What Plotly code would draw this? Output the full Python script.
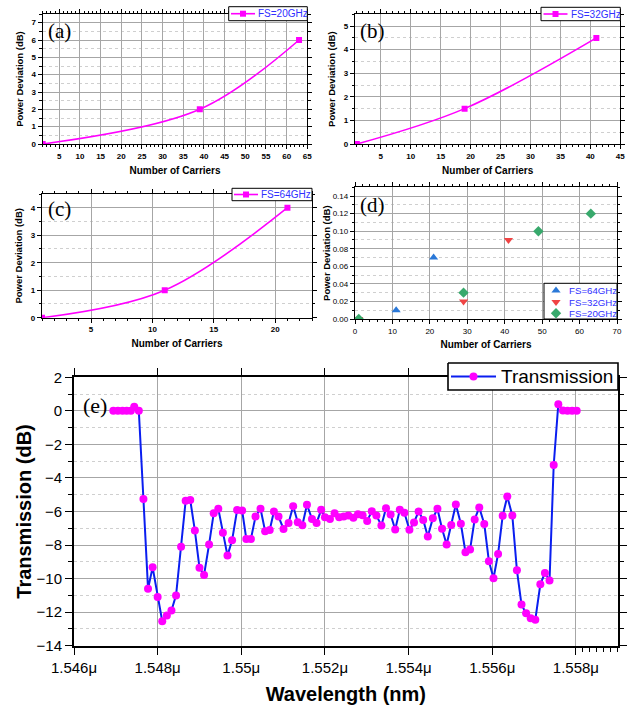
import plotly.graph_objects as go

W, H = 635, 705

# ---- data -------------------------------------------------------------
# (a)-(c): power deviation versus number of carriers
carriers_a = [1, 39, 63]
deviation_a = [0, 2, 6]
carriers_b = [1, 19, 41]
deviation_b = [0, 1.5, 4.5]
carriers_c = [1, 11, 21]
deviation_c = [0, 1, 4]

# (d): deviation for each frequency spacing
fs64_carriers = [1, 11, 21]
fs64_deviation = [0, 0.01, 0.07]
fs32_carriers = [1, 29, 41]
fs32_deviation = [0, 0.02, 0.09]
fs20_carriers = [1, 29, 49, 63]
fs20_deviation = [0, 0.03, 0.10, 0.12]

# (e): filter transmission spectrum
wavelength_nm = [
    1546.94, 1547.05, 1547.16, 1547.26, 1547.36, 1547.44, 1547.55, 1547.66, 1547.77, 1547.88,
    1548.00, 1548.11, 1548.22, 1548.33, 1548.44, 1548.56, 1548.67, 1548.78, 1548.89, 1549.00,
    1549.11, 1549.23, 1549.34, 1549.45, 1549.56, 1549.67, 1549.78, 1549.90, 1550.02, 1550.12,
    1550.23, 1550.34, 1550.46, 1550.57, 1550.68, 1550.78, 1550.89, 1551.01, 1551.13, 1551.24,
    1551.35, 1551.46, 1551.57, 1551.69, 1551.80, 1551.91, 1552.00, 1552.12, 1552.23, 1552.34,
    1552.45, 1552.56, 1552.68, 1552.79, 1552.90, 1553.01, 1553.12, 1553.23, 1553.35, 1553.46,
    1553.57, 1553.68, 1553.79, 1553.90, 1554.02, 1554.13, 1554.24, 1554.35, 1554.46, 1554.58,
    1554.69, 1554.80, 1554.91, 1555.02, 1555.13, 1555.25, 1555.36, 1555.47, 1555.58, 1555.69,
    1555.81, 1555.92, 1556.03, 1556.14, 1556.25, 1556.36, 1556.48, 1556.59, 1556.70, 1556.81,
    1556.92, 1557.03, 1557.15, 1557.26, 1557.37, 1557.47, 1557.58, 1557.69, 1557.80, 1557.91,
    1558.02,
]
transmission_db = [
    0, 0, 0, 0, 0, 0.24, 0, -5.26, -10.6, -9.33,
    -11.1, -12.54, -12.2, -11.9, -11.0, -8.1, -5.36, -5.32, -7.14, -9.35,
    -9.78, -7.96, -6.11, -5.83, -7.26, -8.63, -7.72, -5.91, -5.94, -7.64,
    -7.64, -6.3, -5.84, -7.18, -7.1, -6.0, -6.3, -7.04, -6.68, -5.68,
    -6.64, -6.82, -5.6, -6.44, -6.68, -5.9, -6.35, -6.45, -6.1, -6.35,
    -6.3, -6.24, -6.37, -6.16, -6.22, -6.57, -5.98, -6.24, -6.83, -5.8,
    -6.18, -7.07, -5.9, -6.08, -7.09, -6.65, -6.0, -6.5, -7.49, -6.4,
    -5.84, -7.03, -7.97, -6.81, -5.58, -6.73, -8.43, -8.27, -6.47, -5.76,
    -6.75, -8.96, -9.98, -8.53, -6.25, -5.1, -6.24, -9.5, -11.55, -12.07,
    -12.37, -12.45, -10.34, -9.66, -10.12, -3.23, 0.4, 0.02, 0, 0,
    0,
]
wavelength_m = [w * 1e-9 for w in wavelength_nm]

# ---- styling ----------------------------------------------------------
SANS = "Liberation Sans, Arial, sans-serif"
SERIF = "Liberation Serif, Times New Roman, serif"
MAGENTA = "#ff00ff"
TRACE_BLUE = "#0a1ef0"
LEG_BLUE = "#3030ff"
GRID = "#a6a6a6"
MINOR_GRID = "#cfcfcf"
COL64, COL32, COL20 = "#2a78d8", "#f04444", "#38a96c"


def xdom(left, right):
    return [left / W, right / W]


def ydom(top, bottom):
    return [1 - bottom / H, 1 - top / H]


def axis(domain, rng, dtick, minor_dtick, minor_grid, anchor, font_size,
         bold_ticks, title, title_size, standoff, line_w=1.3, tick0=0,
         tickformat=None, exponentformat="B", tick_len=4):
    tick_font = dict(family=SANS, size=font_size, color="black",
                     weight="bold" if bold_ticks else "normal")
    ax = dict(
        domain=domain, range=rng, dtick=dtick, tick0=tick0, anchor=anchor,
        automargin=False,
        showline=True, linecolor="black", linewidth=line_w, mirror="allticks",
        ticks="outside", ticklen=tick_len, tickwidth=1, tickcolor="black",
        tickfont=tick_font, showgrid=True, gridcolor=GRID, gridwidth=1.1,
        zeroline=False, exponentformat=exponentformat,
        title=dict(text=title, standoff=standoff,
                   font=dict(family=SANS, size=title_size, color="black",
                             weight="bold")),
        minor=dict(dtick=minor_dtick, ticks="outside", ticklen=tick_len * 0.55,
                   tickcolor="black", showgrid=minor_grid,
                   gridcolor=MINOR_GRID, griddash="dot", gridwidth=1),
    )
    if tickformat:
        ax["tickformat"] = tickformat
    return ax


fig = go.Figure()

# ---- panels (a)-(c) ---------------------------------------------------
small_panels = [
    ("x", "y", carriers_a, deviation_a, "FS=20GHz"),
    ("x2", "y2", carriers_b, deviation_b, "FS=32GHz"),
    ("x3", "y3", carriers_c, deviation_c, "FS=64GHz"),
]
for xa, ya, cx, cy, name in small_panels:
    fig.add_trace(go.Scatter(
        x=cx, y=cy, name=name, xaxis=xa, yaxis=ya,
        mode="lines+markers", line=dict(color=MAGENTA, width=1.6, shape="spline"),
        marker=dict(symbol="square", size=6, color=MAGENTA),
    ))

# ---- panel (d) --------------------------------------------------------
for cx, cy, name, sym, col in [
    (fs64_carriers, fs64_deviation, "FS=64GHz", "triangle-up", COL64),
    (fs32_carriers, fs32_deviation, "FS=32GHz", "triangle-down", COL32),
    (fs20_carriers, fs20_deviation, "FS=20GHz", "diamond", COL20),
]:
    fig.add_trace(go.Scatter(
        x=cx, y=cy, name=name, xaxis="x4", yaxis="y4",
        mode="markers", marker=dict(symbol=sym, size=8, color=col),
    ))

# ---- panel (e) --------------------------------------------------------
fig.add_trace(go.Scatter(
    x=wavelength_m, y=transmission_db, name="Transmission", xaxis="x5",
    yaxis="y5", mode="lines+markers",
    line=dict(color=TRACE_BLUE, width=2),
    marker=dict(symbol="circle", size=8, color=MAGENTA),
))

# ---- legend boxes, drawn on a full-page pixel overlay --------------------


def legend_box(left, top, right, bottom, border=1.0):
    fig.add_trace(go.Scatter(
        x=[left, right, right, left, left], y=[top, top, bottom, bottom, top],
        xaxis="x6", yaxis="y6", mode="lines", fill="toself",
        fillcolor="white", line=dict(color="black", width=border),
        hoverinfo="skip",
    ))


def legend_entry(x0, x1, y, text, text_x, size, text_color, marker,
                 line_color=None, line_w=1.6):
    if line_color:
        fig.add_trace(go.Scatter(
            x=[x0, x1], y=[y, y], xaxis="x6", yaxis="y6", mode="lines",
            line=dict(color=line_color, width=line_w), hoverinfo="skip",
        ))
    fig.add_trace(go.Scatter(
        x=[(x0 + x1) / 2], y=[y], xaxis="x6", yaxis="y6", mode="markers",
        marker=marker, hoverinfo="skip",
    ))
    fig.add_annotation(
        text=text, x=text_x, y=y, xref="x6", yref="y6", xanchor="left",
        yanchor="middle", showarrow=False,
        font=dict(family=SANS, size=size, color=text_color),
    )


sq = dict(symbol="square", size=6, color=MAGENTA)
legend_box(228.7, 6.7, 307.3, 20.7)
legend_entry(231, 255, 13.7, "FS=20GHz", 256, 10, LEG_BLUE, sq, MAGENTA)
legend_box(541, 7.3, 620.3, 20.7)
legend_entry(543.5, 567.5, 14, "FS=32GHz", 568.5, 10, LEG_BLUE, sq, MAGENTA)
legend_box(232, 188.3, 312, 200.7)
legend_entry(234, 258, 194.5, "FS=64GHz", 259, 10, LEG_BLUE, sq, MAGENTA)

legend_box(544, 283.3, 617, 319)
for yy, text, sym, col in [
    (290.5, "FS=64GHz", "triangle-up", COL64),
    (302, "FS=32GHz", "triangle-down", COL32),
    (313.3, "FS=20GHz", "diamond", COL20),
]:
    legend_entry(551, 561, yy, text, 567, 9.7, LEG_BLUE,
                 dict(symbol=sym, size=8, color=col))

legend_box(448, 363, 618, 390, border=1.6)
legend_entry(451, 496, 376.5, "Transmission", 499, 19, "black",
             dict(symbol="circle", size=8, color=MAGENTA), TRACE_BLUE, 2)

lay = dict(
    width=W, height=H,
    margin=dict(l=0, r=0, t=0, b=0, autoexpand=False),
    paper_bgcolor="white", plot_bgcolor="rgba(0,0,0,0)", showlegend=False,
)

lay["xaxis"] = axis(xdom(42.7, 307.3), [1, 65], 5, 1, False, "y", 8, True,
                    "Number of Carriers", 10, 7)
lay["yaxis"] = axis(ydom(14, 144), [0, 7.5], 1, 0.5, True, "x", 8, True,
                    "Power Deviation (dB)", 9.5, 6)
lay["xaxis2"] = axis(xdom(355, 620.3), [0.7, 45], 5, 1, False, "y2", 8, True,
                     "Number of Carriers", 10, 7)
lay["yaxis2"] = axis(ydom(14.3, 144), [0, 5.5], 1, 0.5, True, "x2", 8, True,
                     "Power Deviation (dB)", 9.5, 6)
lay["xaxis3"] = axis(xdom(42, 312), [1, 23], 5, 1, False, "y3", 8, True,
                     "Number of Carriers", 10, 6)
lay["yaxis3"] = axis(ydom(194, 317.7), [0, 4.5], 1, 0.5, True, "x3", 8, True,
                     "Power Deviation (dB)", 9.5, 6)
lay["xaxis4"] = axis(xdom(355, 617), [0, 70], 10, 2, False, "y4", 8, False,
                     "Number of Carriers", 10, 6)
lay["yaxis4"] = axis(ydom(187.3, 319), [0, 0.15], 0.02, 0.01, True, "x4", 8,
                     False, "Power Deviation (dB)", 9.5, 0, tickformat=".2f")
lay["xaxis5"] = axis(xdom(74, 617.7), [1.546e-6, 1.559e-6], 2e-9, 2e-9 / 12,
                     False, "y5", 15, False, "Wavelength (nm)", 20, 12,
                     line_w=2, tick0=1.546e-6, exponentformat="SI", tick_len=7)
lay["yaxis5"] = axis(ydom(377.3, 645.7), [-14, 2], 2, 1, True, "x5", 15, False,
                     "Transmission (dB)", 20, 0, line_w=2, tick_len=7)

# pixel-space overlay used for the legend boxes
lay["xaxis6"] = dict(domain=[0, 1], range=[0, W], visible=False,
                     fixedrange=True, anchor="y6")
lay["yaxis6"] = dict(domain=[0, 1], range=[H, 0], visible=False,
                     fixedrange=True, anchor="x6")

fig.update_layout(**lay)

# panel letters
for label, px, py, size in [
    ("(a)", 46, 31, 21), ("(b)", 358, 31, 21), ("(c)", 46, 209, 21),
    ("(d)", 358, 205, 21), ("(e)", 81, 405, 22),
]:
    fig.add_annotation(
        text=label, x=px / W, y=1 - py / H, xref="paper", yref="paper",
        xanchor="left", yanchor="middle", showarrow=False,
        font=dict(family=SERIF, size=size, color="black"),
    )

fig.write_html("out.html")
